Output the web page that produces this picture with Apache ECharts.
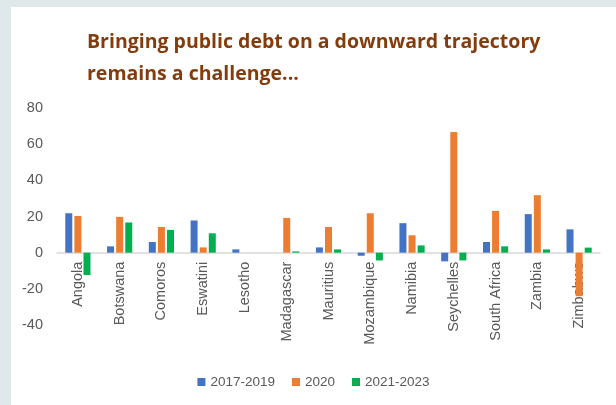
<!DOCTYPE html>
<html>
<head>
<meta charset="utf-8">
<script src="https://cdn.jsdelivr.net/npm/echarts@6/dist/echarts.min.js"></script>
<style>
  html, body { margin: 0; padding: 0; background: #dfe9e9; }
  #chart { position: absolute; left: 11px; top: 7px; width: 605px; height: 398px; background: #fff; }
</style>
</head>
<body>
<div id="chart"></div>
<script>
// data
var countries = ['Angola', 'Botswana', 'Comoros', 'Eswatini', 'Lesotho', 'Madagascar',
  'Mauritius', 'Mozambique', 'Namibia', 'Seychelles', 'South Africa', 'Zambia', 'Zimbabwe'];
var period1 = [21.8, 3.5, 5.9, 17.8, 1.8, 0, 2.9, -1.7, 16.3, -4.8, 5.9, 21.3, 12.9];
var period2 = [20.3, 19.8, 14.2, 2.9, 0, 19.2, 14.2, 21.8, 9.6, 66.7, 23.1, 31.8, -24.1];
var period3 = [-12.4, 16.7, 12.6, 10.7, 0, 0.7, 1.8, -4.3, 4.0, -4.3, 3.5, 1.8, 2.8];
var seriesNames = ['2017-2019', '2020', '2021-2023'];
var yMin = -40, yMax = 80, yStep = 20;

var grey = '#595959';
var gridTop = 101, gridBottom = 80, chartH = 398;
// move the category axis up to the zero line (labels follow it)
var zeroOffset = -(chartH - gridTop - gridBottom) * (0 - yMin) / (yMax - yMin);

var chart = echarts.init(document.getElementById('chart'));

function bar(name, data, color) {
  return {
    name: name,
    type: 'bar',
    data: data,
    barWidth: 7,
    barGap: '30%',
    itemStyle: { color: color }
  };
}

chart.setOption({
  animation: false,
  title: {
    text: 'Bringing public debt on a downward trajectory\nremains a challenge...',
    left: 71,
    top: 14,
    textStyle: {
      color: '#843c0c',
      fontFamily: 'Open Sans',
      fontWeight: 'bold',
      fontSize: 19.5,
      lineHeight: 32
    }
  },
  legend: {
    bottom: 11,
    left: 'center',
    itemWidth: 8,
    itemHeight: 8,
    itemGap: 17,
    icon: 'rect',
    textStyle: { color: grey, fontSize: 13.5, fontFamily: 'Liberation Sans' },
    data: seriesNames
  },
  grid: { left: 46, right: 16, top: gridTop, bottom: gridBottom, containLabel: false },
  xAxis: {
    type: 'category',
    data: countries,
    position: 'bottom',
    offset: zeroOffset,
    axisLine: { onZero: false, lineStyle: { color: '#d9d9d9', width: 1.5 } },
    axisTick: { show: false },
    axisLabel: {
      rotate: 90,
      interval: 0,
      color: grey,
      fontSize: 14.5,
      fontFamily: 'Liberation Sans',
      margin: 9
    }
  },
  yAxis: {
    type: 'value',
    min: yMin,
    max: yMax,
    interval: yStep,
    axisLine: { show: false },
    axisTick: { show: false },
    splitLine: { show: false },
    axisLabel: { color: grey, fontSize: 14.5, fontFamily: 'Liberation Sans', margin: 14 }
  },
  series: [
    bar(seriesNames[0], period1, '#4472c4'),
    bar(seriesNames[1], period2, '#ed7d31'),
    bar(seriesNames[2], period3, '#00b050')
  ]
});
</script>
</body>
</html>
